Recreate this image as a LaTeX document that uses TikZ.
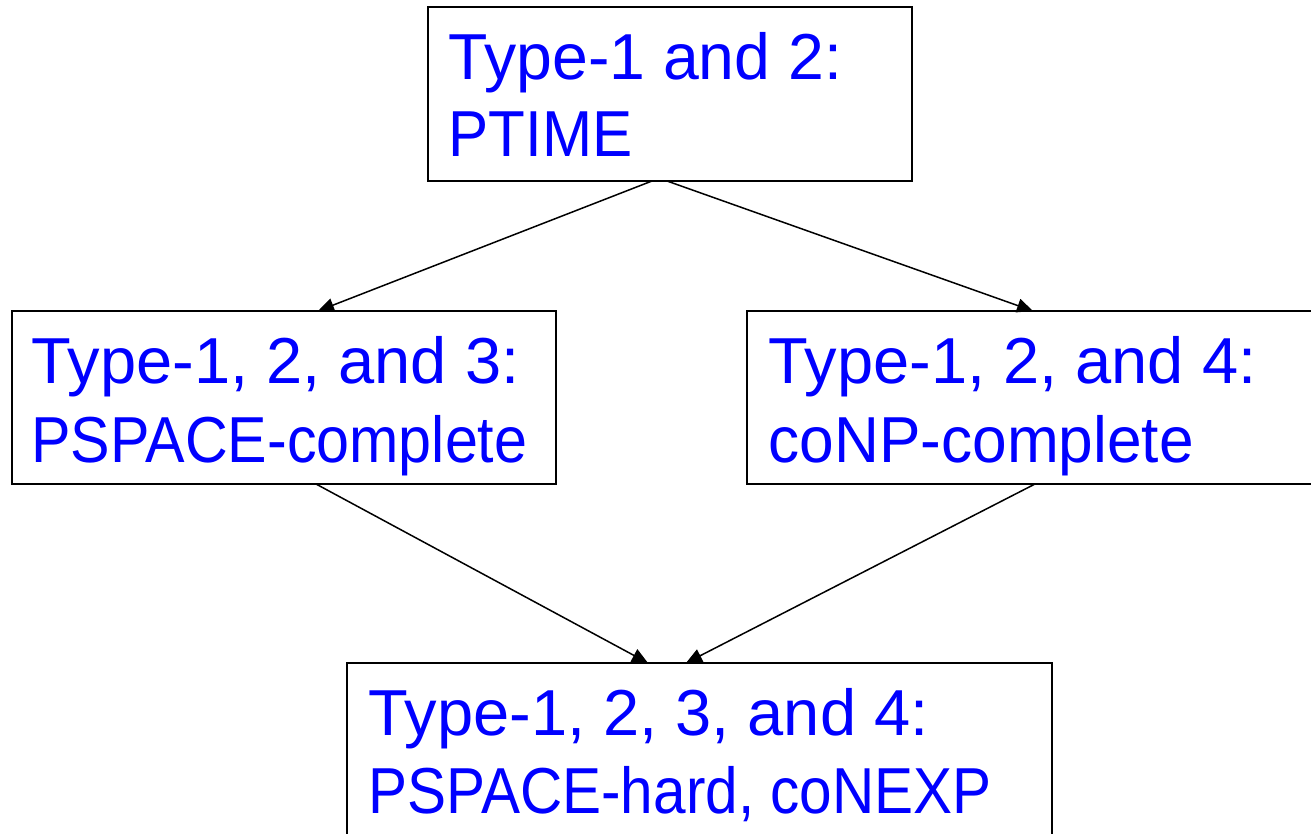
\documentclass[tikz,border=0pt]{standalone}
\usepackage{fontspec}
\usepackage{graphicx}
\setmainfont{Liberation Sans}
\usetikzlibrary{arrows.meta}

\definecolor{txtblue}{RGB}{0,0,255}
% horizontal squeeze of one line of text
\newcommand{\squeeze}[2]{\scalebox{#1}[1]{#2}}

\begin{document}
\begin{tikzpicture}[x=1pt,y=-1pt,
  classbox/.style={draw=black, line width=2.8pt, fill=white, rectangle,
    inner sep=0pt, outer sep=0pt, anchor=north west},
  txt/.style={anchor=base west, inner sep=0pt, outer sep=0pt, text=txtblue,
    font=\fontsize{65}{78}\selectfont},
  conn/.style={draw=black, line width=1.5pt,
    -{Triangle[length=16pt,width=14pt]}}]
\useasboundingbox (0,0) rectangle (1311,834);
\clip (0,0) rectangle (1311,834);

% complexity classes
\node[classbox, minimum width=484pt, minimum height=174pt] (top)    at (428,7)   {};
\node[classbox, minimum width=544pt, minimum height=173pt] (left)   at (12,311)  {};
\node[classbox, minimum width=580pt, minimum height=173pt] (right)  at (747,311) {};
\node[classbox, minimum width=705pt, minimum height=200pt] (bottom) at (347,663) {};

% labels
\node[txt] (topA) at ([shift={(20.5,73)}]top.north west)  {\squeeze{0.99}{Type-1 and 2:}};
\node[txt] (topB) at ([shift={(20.5,150)}]top.north west) {\squeeze{0.926}{PTIME}};

\node[txt] (leftA) at ([shift={(19.5,72)}]left.north west)  {Type-1, 2, and 3:};
\node[txt] (leftB) at ([shift={(19.5,151)}]left.north west) {\squeeze{0.911}{PSPACE-complete}};

\node[txt] (rightA) at ([shift={(21.5,72)}]right.north west)  {Type-1, 2, and 4:};
\node[txt] (rightB) at ([shift={(21.5,151)}]right.north west) {\squeeze{0.957}{coNP-complete}};

\node[txt] (botA) at ([shift={(21.5,72)}]bottom.north west)  {Type-1, 2, 3, and 4:};
\node[txt] (botB) at ([shift={(21.5,150)}]bottom.north west) {\squeeze{0.90}{PSPACE-hard, coNEXP}};

% containment arrows
\draw[conn] ([xshift=224pt]top.south west) -- ([xshift=306pt]left.north west);
\draw[conn] ([xshift=239pt]top.south west) -- ([xshift=286pt]right.north west);
\draw[conn] ([xshift=304pt]left.south west) -- ([xshift=301pt]bottom.north west);
\draw[conn] ([xshift=288pt]right.south west) -- ([xshift=339pt]bottom.north west);
\end{tikzpicture}
\end{document}
